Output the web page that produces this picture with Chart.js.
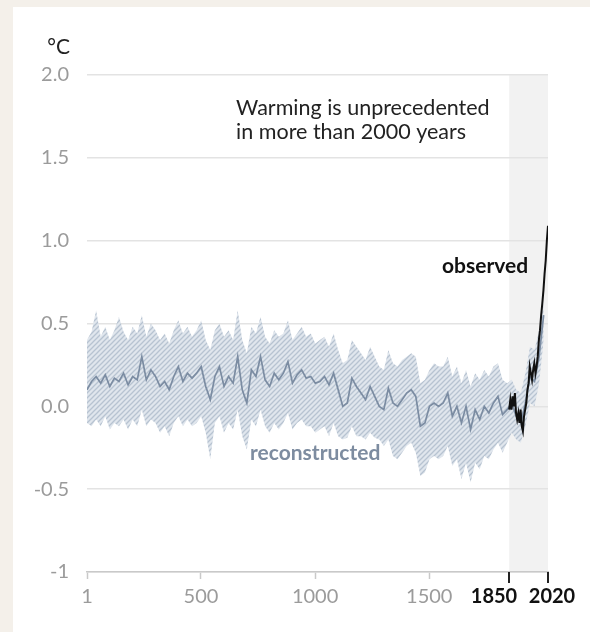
<!DOCTYPE html>
<html>
<head>
<meta charset="utf-8">
<script src="https://cdn.jsdelivr.net/npm/chart.js@4/dist/chart.umd.min.js"></script>
<style>
  html, body { margin: 0; padding: 0; background: #f4f0ea; width: 590px; height: 632px; overflow: hidden; }
  #card { position: absolute; left: 13px; top: 7px; width: 577px; height: 625px; background: #ffffff; }
  canvas { display: block; }
</style>
</head>
<body>
<div id="card"><canvas id="c" width="577" height="625"></canvas></div>
<script>
// ---- data ----
const reconYears = [1,21,41,61,81,101,121,141,161,181,201,221,241,261,281,301,321,341,361,381,
  401,421,441,461,481,501,521,541,561,581,601,621,641,661,681,701,721,741,761,781,
  801,821,841,861,881,901,921,941,961,981,1001,1021,1041,1061,1081,1101,1121,1141,1161,1181,
  1201,1221,1241,1261,1281,1301,1321,1341,1361,1381,1401,1421,1441,1461,1481,1501,1521,1541,1561,1581,
  1601,1621,1641,1661,1681,1701,1721,1741,1761,1781,1801,1821,1841,1861,1881,1901,1921,1941,1961,1981,2001];
const reconMedian = [0.10,0.15,0.18,0.14,0.19,0.12,0.17,0.15,0.20,0.13,0.18,0.16,0.30,0.16,0.22,0.18,0.12,0.15,0.10,0.18,
  0.24,0.15,0.20,0.17,0.20,0.24,0.12,0.04,0.18,0.24,0.12,0.18,0.14,0.30,0.10,0.02,0.22,0.18,0.30,0.16,
  0.12,0.20,0.16,0.20,0.27,0.14,0.19,0.22,0.17,0.18,0.14,0.15,0.18,0.13,0.20,0.10,0.00,0.02,0.17,0.12,
  0.08,0.04,0.12,0.06,0.00,-0.02,0.11,0.02,0.00,0.04,0.08,0.10,0.06,-0.12,-0.10,0.00,0.02,0.00,0.02,0.08,
  -0.06,0.00,-0.10,0.00,-0.14,-0.02,-0.08,0.00,-0.04,0.02,0.06,-0.05,-0.02,0.02,-0.06,-0.10,0.02,0.18,0.15,0.30,0.55];
const reconUpper = [0.40,0.45,0.58,0.42,0.48,0.40,0.46,0.54,0.45,0.40,0.48,0.44,0.55,0.42,0.50,0.46,0.40,0.44,0.38,0.46,
  0.52,0.44,0.48,0.42,0.46,0.52,0.40,0.34,0.46,0.50,0.42,0.46,0.40,0.58,0.40,0.32,0.48,0.44,0.54,0.42,
  0.38,0.46,0.42,0.44,0.52,0.40,0.44,0.48,0.42,0.44,0.38,0.40,0.42,0.36,0.44,0.34,0.26,0.28,0.40,0.36,
  0.32,0.28,0.36,0.30,0.24,0.22,0.34,0.26,0.24,0.28,0.30,0.32,0.30,0.14,0.16,0.22,0.26,0.24,0.24,0.30,
  0.18,0.24,0.14,0.22,0.12,0.20,0.16,0.22,0.18,0.24,0.26,0.16,0.14,0.16,0.10,0.08,0.20,0.36,0.34,0.46,0.62];
const reconLower = [-0.10,-0.12,-0.08,-0.12,-0.06,-0.14,-0.10,-0.12,-0.08,-0.14,-0.08,-0.12,-0.02,-0.12,-0.08,-0.10,-0.16,-0.12,-0.18,-0.10,
  -0.06,-0.12,-0.08,-0.12,-0.10,-0.06,-0.16,-0.32,-0.10,-0.06,-0.16,-0.10,-0.14,-0.02,-0.18,-0.26,-0.08,-0.12,-0.02,-0.12,
  -0.16,-0.10,-0.14,-0.10,-0.04,-0.14,-0.10,-0.08,-0.12,-0.12,-0.16,-0.14,-0.12,-0.18,-0.10,-0.18,-0.20,-0.19,-0.12,-0.18,
  -0.18,-0.20,-0.16,-0.19,-0.20,-0.24,-0.20,-0.30,-0.32,-0.28,-0.24,-0.22,-0.28,-0.42,-0.40,-0.32,-0.30,-0.32,-0.30,-0.24,
  -0.36,-0.32,-0.44,-0.34,-0.46,-0.34,-0.38,-0.30,-0.32,-0.26,-0.22,-0.28,-0.22,-0.16,-0.20,-0.22,-0.12,0.02,0.00,0.14,0.40];

const obsYears = [1850,1855,1860,1865,1870,1875,1880,1885,1890,1895,1900,1905,1910,1915,1920,1925,1930,1935,
  1940,1945,1950,1955,1960,1965,1970,1975,1980,1985,1990,1995,2000,2005,2010,2015,2020];
const obsValues = [-0.02,0.04,-0.02,0.06,0.00,0.08,-0.04,-0.08,-0.04,-0.10,-0.02,-0.12,-0.15,-0.06,-0.02,0.02,0.10,0.14,
  0.24,0.20,0.16,0.22,0.26,0.20,0.24,0.30,0.40,0.46,0.55,0.62,0.70,0.80,0.88,1.00,1.09];

const xTickValues = [1, 500, 1000, 1500, 1850, 2020];
const xBoldTicks = [1850, 2020];
const xBoldLabelShift = [-15, 4];
const yTickValues = [-1, -0.5, 0, 0.5, 1, 1.5, 2];
const yTickLabels = ['-1', '-0.5', '0.0', '0.5', '1.0', '1.5', '2.0'];
const shadeRange = [1850, 2020];
const unitLabel = '°C';
const noteLines = ['Warming is unprecedented', 'in more than 2000 years'];
const observedLabel = 'observed';
const reconLabel = 'reconstructed';

// ---- styles ----
const FONT = 'Lato, "Open Sans", sans-serif';
const GREY_TEXT = '#9b9b9b';
const TICK_LEN = 7, TICK_PAD = 6, TICK_SIZE = 20;

function hatchPattern() {
  const s = 5;
  const p = document.createElement('canvas');
  p.width = s; p.height = s;
  const g = p.getContext('2d');
  g.fillStyle = '#e0e6ed';
  g.fillRect(0, 0, s, s);
  g.strokeStyle = '#b7c3d1';
  g.lineWidth = 1.3;
  g.beginPath();
  g.moveTo(0, s); g.lineTo(s, 0);
  g.moveTo(-1, 1); g.lineTo(1, -1);
  g.moveTo(s - 1, s + 1); g.lineTo(s + 1, s - 1);
  g.stroke();
  return document.getElementById('c').getContext('2d').createPattern(p, 'repeat');
}

const toPts = (xs, ys) => xs.map((x, i) => ({ x: x, y: ys[i] }));
const isBold = c => c.tick && xBoldTicks.includes(c.tick.value);

const shadePlugin = {
  id: 'shade',
  beforeDraw(chart) {
    const { ctx, chartArea, scales } = chart;
    const x0 = scales.x.getPixelForValue(shadeRange[0]);
    const x1 = scales.x.getPixelForValue(shadeRange[1]);
    ctx.save();
    ctx.fillStyle = '#f2f2f2';
    ctx.fillRect(x0, chartArea.top, x1 - x0, chartArea.bottom - chartArea.top);
    ctx.restore();
  }
};

const textPlugin = {
  id: 'texts',
  afterDraw(chart) {
    const { ctx, scales, chartArea } = chart;
    const xs = scales.x, ys = scales.y;
    ctx.save();
    // unit
    ctx.font = '21px ' + FONT;
    ctx.fillStyle = '#222222';
    ctx.textAlign = 'right';
    ctx.textBaseline = 'middle';
    ctx.fillText(unitLabel, chartArea.left - 17, ys.getPixelForValue(2) - 28);
    // note
    ctx.font = '21.5px ' + FONT;
    ctx.fillStyle = '#222222';
    ctx.textAlign = 'left';
    const nx = xs.getPixelForValue(654);
    const ny = ys.getPixelForValue(1.80);
    noteLines.forEach((t, i) => ctx.fillText(t, nx, ny + i * 23.5));
    // observed
    ctx.font = 'bold 21px ' + FONT;
    ctx.fillStyle = '#111111';
    ctx.textAlign = 'right';
    ctx.fillText(observedLabel, xs.getPixelForValue(1933), ys.getPixelForValue(0.845));
    // reconstructed
    ctx.fillStyle = '#7d8ca0';
    ctx.textAlign = 'left';
    ctx.fillText(reconLabel, xs.getPixelForValue(715), ys.getPixelForValue(-0.283));
    // bold x ticks and labels (shifted apart as in the original)
    const yb = chartArea.bottom;
    ctx.strokeStyle = '#222222';
    ctx.lineWidth = 2;
    ctx.fillStyle = '#111111';
    ctx.font = 'bold ' + TICK_SIZE + 'px ' + FONT;
    ctx.textAlign = 'center';
    xBoldTicks.forEach((v, i) => {
      const px = Math.round(xs.getPixelForValue(v));
      ctx.beginPath();
      ctx.moveTo(px, yb);
      ctx.lineTo(px, yb + 11);
      ctx.stroke();
      ctx.fillText(String(v), px + xBoldLabelShift[i], yb + TICK_LEN + TICK_PAD + TICK_SIZE * 0.6);
    });
    ctx.restore();
  }
};

const pattern = hatchPattern();

new Chart(document.getElementById('c'), {
  type: 'line',
  data: {
    datasets: [
      { label: 'observed', data: toPts(obsYears, obsValues), borderColor: '#111111', borderWidth: 2,
        pointRadius: 0, fill: false, tension: 0, order: 0 },
      { label: 'reconstructed', data: toPts(reconYears, reconMedian), borderColor: '#7b8ca2', borderWidth: 1.7,
        pointRadius: 0, fill: false, tension: 0, order: 1 },
      { label: 'lower', data: toPts(reconYears, reconLower), borderWidth: 0, borderColor: 'rgba(0,0,0,0)',
        pointRadius: 0, fill: false, tension: 0, order: 3 },
      { label: 'upper', data: toPts(reconYears, reconUpper), borderWidth: 0, borderColor: 'rgba(0,0,0,0)',
        backgroundColor: pattern, pointRadius: 0, fill: '-1', tension: 0, order: 2 }
    ]
  },
  options: {
    responsive: false,
    animation: false,
    devicePixelRatio: 1,
    layout: { padding: { left: 0, right: 42, top: 68, bottom: 0 } },
    plugins: { legend: { display: false }, tooltip: { enabled: false } },
    scales: {
      x: {
        type: 'linear', min: 1, max: 2020,
        afterBuildTicks: s => { s.ticks = xTickValues.map(v => ({ value: v })); },
        afterFit: s => { s.height = 60; },
        border: { display: true, color: '#c9c9c9', width: 1.5 },
        grid: {
          drawOnChartArea: false, drawTicks: true, tickLength: TICK_LEN,
          tickColor: c => isBold(c) ? 'rgba(0,0,0,0)' : '#c9c9c9',
          tickWidth: 1.5
        },
        ticks: {
          autoSkip: false, maxRotation: 0, padding: TICK_PAD,
          callback: v => xBoldTicks.includes(v) ? '' : String(v),
          color: GREY_TEXT,
          font: { family: FONT, size: TICK_SIZE }
        }
      },
      y: {
        type: 'linear', min: -1, max: 2,
        afterBuildTicks: s => { s.ticks = yTickValues.map(v => ({ value: v })); },
        afterFit: s => { s.width = 74; },
        border: { display: false },
        grid: { color: '#e3e3e3', lineWidth: 1.5, drawTicks: false },
        ticks: {
          padding: 18, color: GREY_TEXT,
          font: { family: FONT, size: 20 },
          callback: v => { const i = yTickValues.indexOf(v); return i >= 0 ? yTickLabels[i] : ''; }
        }
      }
    }
  },
  plugins: [shadePlugin, textPlugin]
});
</script>
</body>
</html>
